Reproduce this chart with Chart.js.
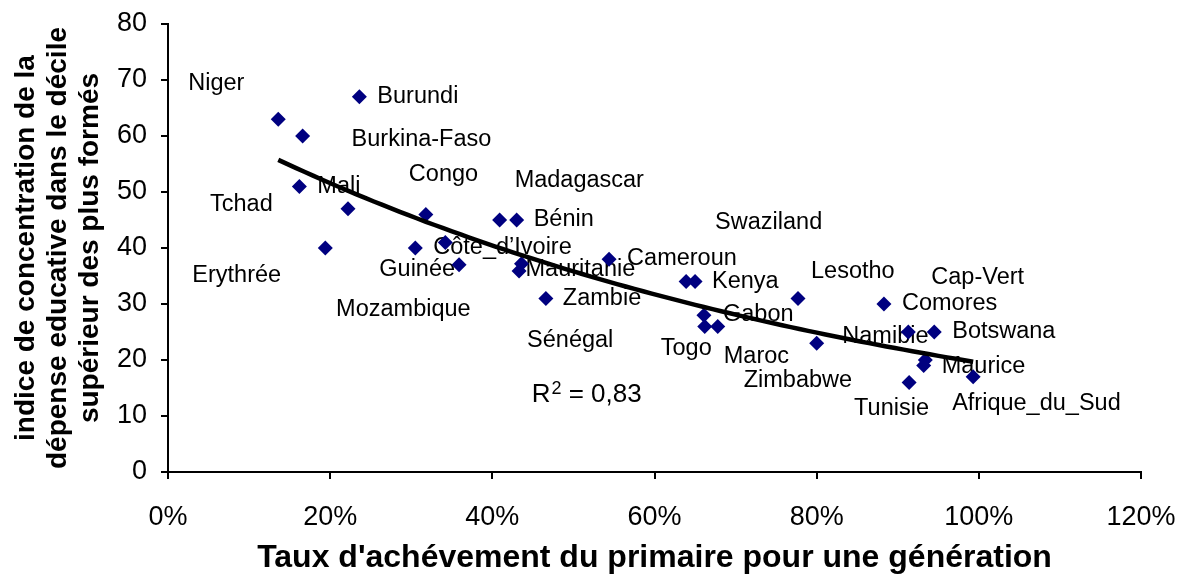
<!DOCTYPE html>
<html>
<head>
<meta charset="utf-8">
<script src="https://cdn.jsdelivr.net/npm/chart.js@4.4.1/dist/chart.umd.min.js"></script>
<style>
  html, body { margin: 0; padding: 0; background: #fff; }
  #wrap { width: 1188px; height: 574px; }
</style>
</head>
<body>
<div id="wrap"><canvas id="chart"></canvas></div>
<script>
// --- data ---
const countries = [
  'Niger', 'Burkina-Faso', 'Burundi', 'Mali', 'Tchad', 'Congo',
  'Madagascar', 'Bénin', 'Erythrée', 'Guinée', 'Côte_d\u2019Ivoire', 'Mozambique',
  'Mauritanie', 'Sénégal', 'Zambie', 'Cameroun', 'Swaziland', 'Kenya',
  'Gabon', 'Togo', 'Maroc', 'Lesotho', 'Zimbabwe', 'Comores',
  'Namibie', 'Botswana', 'Cap-Vert', 'Maurice', 'Tunisie', 'Afrique_du_Sud'
];
// taux d'achèvement du primaire (%)
const completion = [
  13.6, 16.6, 23.6, 16.2, 22.2, 31.8,
  40.9, 43.0, 19.4, 30.5, 34.2, 35.9,
  43.6, 43.3, 46.6, 54.4, 63.9, 65.0,
  66.1, 66.2, 67.8, 77.7, 80.0, 88.3,
  91.3, 94.5, 93.4, 93.2, 91.4, 99.3
];
// indice de concentration de la dépense éducative
const concentration = [
  63, 60, 67, 51, 47, 46,
  45, 45, 40, 40, 41, 37,
  37.2, 35.9, 31, 38, 34, 34,
  28, 26, 26, 31, 23, 30,
  25, 25, 20, 19, 16, 17
];
const xTicks = [0, 20, 40, 60, 80, 100, 120];
const yTicks = [0, 10, 20, 30, 40, 50, 60, 70, 80];
const r2Value = '0,83';

// exponential trend line (least squares on ln y), as the spreadsheet does
function expFit(xs, ys) {
  const n = xs.length;
  const ly = ys.map(v => Math.log(v));
  const mx = xs.reduce((s, v) => s + v, 0) / n;
  const my = ly.reduce((s, v) => s + v, 0) / n;
  let sxy = 0, sxx = 0;
  for (let i = 0; i < n; i++) {
    sxy += (xs[i] - mx) * (ly[i] - my);
    sxx += (xs[i] - mx) * (xs[i] - mx);
  }
  const b = sxy / sxx;
  return { a: Math.exp(my - b * mx), b };
}
const fit = expFit(completion, concentration);
const xMin = Math.min(...completion);
const xMax = Math.max(...completion);
const trend = [];
for (let i = 0; i <= 80; i++) {
  const x = xMin + (xMax - xMin) * i / 80;
  trend.push({ x, y: fit.a * Math.exp(fit.b * x) });
}

const points = completion.map((x, i) => ({ x, y: concentration[i] }));

// --- label layout (pixel offsets from each point) ---
const labelOffsets = [
  [-90, -36], [49, 4], [18, 0], [18, 0], [-138, -4], [-17, -40],
  [15, -39], [17, 0], [-133, 28], [-36, 22], [-12, 5], [-123, 45],
  [4, 6], [8, 70], [17, 0], [18, -1], [29, -59], [17, 0],
  [19, -1], [-44, 22], [6, 30], [13, -27], [-73, 37], [18, 0],
  [-66, 5], [18, 0], [6, -82], [18, 1], [-55, 26], [-21, 27]
];
const r2Anchor = { x: 44.85, y: 12.5 }; // baseline-left of the R² text, in axis units

const FONT = '"Liberation Sans", Arial, Helvetica, sans-serif';

const labelPlugin = {
  id: 'countryLabels',
  beforeDatasetsDraw(chart) {
    const ctx = chart.ctx;
    const meta = chart.getDatasetMeta(0);
    ctx.save();
    ctx.fillStyle = '#000';
    ctx.font = '23.5px ' + FONT;
    ctx.textAlign = 'left';
    ctx.textBaseline = 'middle';
    meta.data.forEach((pt, i) => {
      const [dx, dy] = labelOffsets[i];
      ctx.fillText(countries[i], pt.x + dx, pt.y + dy);
    });

    // R² = 0,83
    let x = chart.scales.x.getPixelForValue(r2Anchor.x);
    const y = chart.scales.y.getPixelForValue(r2Anchor.y);
    ctx.textBaseline = 'alphabetic';
    ctx.font = '26px ' + FONT;
    ctx.fillText('R', x, y);
    x += ctx.measureText('R').width + 1;
    ctx.font = '18px ' + FONT;
    ctx.fillText('2', x, y - 8);
    x += ctx.measureText('2').width;
    ctx.font = '26px ' + FONT;
    ctx.fillText(' = ' + r2Value, x, y);
    ctx.restore();
  }
};

const axisGrid = {
  drawOnChartArea: false,
  drawTicks: true,
  tickLength: 7,
  color: '#000',
  lineWidth: 2
};

new Chart(document.getElementById('chart'), {
  type: 'scatter',
  data: {
    datasets: [
      {
        label: 'pays',
        data: points,
        pointStyle: 'rectRot',
        pointRadius: 7.5,
        pointHoverRadius: 7.5,
        backgroundColor: '#000080',
        borderWidth: 0,
        order: 2
      },
      {
        label: 'tendance',
        type: 'line',
        data: trend,
        borderColor: '#000',
        borderWidth: 4.5,
        pointRadius: 0,
        fill: false,
        tension: 0,
        order: 1
      }
    ]
  },
  options: {
    responsive: true,
    maintainAspectRatio: false,
    animation: false,
    layout: { padding: { top: 24, right: 47, left: 0, bottom: 0 } },
    plugins: {
      legend: { display: false },
      tooltip: { enabled: false }
    },
    scales: {
      x: {
        type: 'linear',
        min: 0,
        max: 120,
        afterFit: scale => {
          scale.height = 102;
          scale.paddingLeft = 0;
          scale.paddingRight = 0;
        },
        afterBuildTicks: scale => { scale.ticks = xTicks.map(v => ({ value: v })); },
        ticks: {
          callback: v => v + '%',
          color: '#000',
          font: { family: FONT, size: 27 },
          padding: 22,
          maxRotation: 0
        },
        grid: axisGrid,
        border: { display: true, color: '#000', width: 2 },
        title: {
          display: true,
          text: "Taux d'achévement du primaire pour une génération",
          color: '#000',
          font: { family: FONT, size: 32, weight: 'bold', lineHeight: 1 },
          padding: 0
        }
      },
      y: {
        min: 0,
        max: 80,
        afterFit: scale => {
          scale.width = 168;
          scale.paddingTop = 0;
          scale.paddingBottom = 0;
        },
        afterBuildTicks: scale => { scale.ticks = yTicks.map(v => ({ value: v })); },
        ticks: {
          color: '#000',
          font: { family: FONT, size: 27 },
          padding: 14
        },
        grid: axisGrid,
        border: { display: true, color: '#000', width: 2 },
        title: {
          display: true,
          text: [
            'indice de concentration de la',
            'dépense educative dans le décile',
            'supérieur des plus formés'
          ],
          color: '#000',
          font: { family: FONT, size: 28, weight: 'bold', lineHeight: 1.143 },
          padding: { top: 10, bottom: 0 }
        }
      }
    }
  },
  plugins: [labelPlugin]
});
</script>
</body>
</html>
